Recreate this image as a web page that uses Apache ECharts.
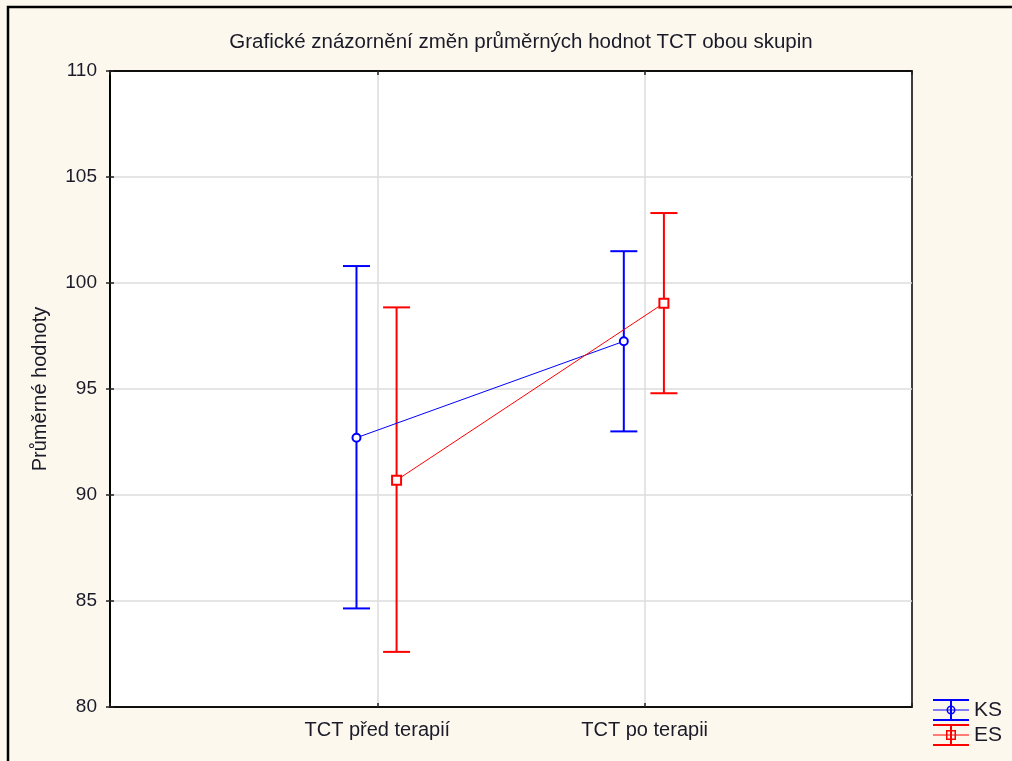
<!DOCTYPE html>
<html>
<head>
<meta charset="utf-8">
<script src="https://cdn.jsdelivr.net/npm/echarts@6/dist/echarts.min.js"></script>
<style>
  html, body { margin: 0; padding: 0; background: #fdf8ee; }
  #chart { width: 1012px; height: 761px; }
</style>
</head>
<body>
<div id="chart"></div>
<script>
// hodnoty
const categories = ['TCT před terapií', 'TCT po terapii'];
const ksMean = [92.7, 97.25];
const ksLow = [84.65, 93.0];
const ksHigh = [100.8, 101.5];
const esMean = [90.7, 99.05];
const esLow = [82.6, 94.8];
const esHigh = [98.85, 103.3];
const yMin = 80, yMax = 110, yStep = 5;

const ksShift = -0.078;
const esShift = 0.072;
const textColor = '#1a1a28';
const font = 'Liberation Sans, Arial, sans-serif';
const gridColor = '#dcdcdc';

const ksPoints = ksMean.map((v, i) => [i + 1 + ksShift, v]);
const esPoints = esMean.map((v, i) => [i + 1 + esShift, v]);
const ksBars = ksLow.map((v, i) => [i + 1 + ksShift, v, ksHigh[i]]);
const esBars = esLow.map((v, i) => [i + 1 + esShift, v, esHigh[i]]);

// ikony legendy (caps + stem + stredni cara + marker)
const base = 'M0 0 H36 V2 H0 Z M0 20 H36 V22 H0 Z M17 2 H19 V20 H17 Z M0 10.5 H36 V11.5 H0 Z ';
const ksIcon = 'path://' + base +
  'M13.5 11 A4.5 4.5 0 1 1 22.5 11 A4.5 4.5 0 1 1 13.5 11 Z M15 11 A3 3 0 1 0 21 11 A3 3 0 1 0 15 11 Z';
const esIcon = 'path://' + base +
  'M13 6 H23 V16 H13 Z M14.5 7.5 V14.5 H21.5 V7.5 Z';

function errorBar(color) {
  return function (params, api) {
    const x = api.value(0);
    const lo = api.coord([x, api.value(1)]);
    const hi = api.coord([x, api.value(2)]);
    const hw = 13.5;
    const st = { stroke: color, lineWidth: 2 };
    return {
      type: 'group',
      children: [
        { type: 'line', shape: { x1: lo[0], y1: lo[1], x2: hi[0], y2: hi[1] }, style: st },
        { type: 'line', shape: { x1: hi[0] - hw, y1: hi[1], x2: hi[0] + hw, y2: hi[1] }, style: st },
        { type: 'line', shape: { x1: lo[0] - hw, y1: lo[1], x2: lo[0] + hw, y2: lo[1] }, style: st }
      ]
    };
  };
}

const tickStyle = { show: true, inside: true, length: 4, lineStyle: { color: '#222', width: 1.5 } };
const lineAxis = { show: true, lineStyle: { color: '#000', width: 1.5 } };
const gridLines = {
  show: true, showMinLine: false, showMaxLine: false,
  lineStyle: { color: gridColor, width: 1.5 }
};

const chart = echarts.init(document.getElementById('chart'), null, { renderer: 'canvas' });

const option = {
  backgroundColor: '#fdf8ee',
  animation: false,
  title: {
    text: 'Grafické znázornění změn průměrných hodnot TCT obou skupin',
    left: 516,
    textAlign: 'center',
    top: 27,
    textStyle: { fontFamily: font, fontSize: 20.5, fontWeight: 'normal', color: textColor }
  },
  graphic: [{
    type: 'rect',
    shape: { x: 8, y: 7, width: 1100, height: 800 },
    style: { fill: 'none', stroke: '#000', lineWidth: 2.5 },
    silent: true
  }],
  legend: {
    data: [
      { name: 'KS', icon: ksIcon },
      { name: 'ES', icon: esIcon }
    ],
    orient: 'vertical',
    left: 933,
    top: 699,
    itemWidth: 36,
    itemHeight: 22,
    itemGap: 3,
    textStyle: { fontFamily: font, fontSize: 21, color: textColor },
    padding: 0
  },
  grid: {
    left: 110, top: 71, right: 100, bottom: 54,
    show: true, backgroundColor: '#fff', borderColor: '#000', borderWidth: 1.5
  },
  xAxis: [{
    type: 'value',
    min: 0, max: 3, interval: 1,
    axisLine: lineAxis,
    axisTick: tickStyle,
    splitLine: gridLines,
    axisLabel: {
      margin: 13,
      fontFamily: font, fontSize: 20, color: textColor,
      formatter: v => categories[v - 1] || ''
    }
  }, {
    type: 'value',
    position: 'top',
    min: 0, max: 3, interval: 1,
    axisLine: lineAxis,
    axisTick: tickStyle,
    splitLine: { show: false },
    axisLabel: { show: false }
  }],
  yAxis: [{
    type: 'value',
    min: yMin, max: yMax, interval: yStep,
    name: 'Průměrné hodnoty',
    nameLocation: 'middle',
    nameGap: 60,
    nameTextStyle: { fontFamily: font, fontSize: 20, color: textColor },
    axisLine: lineAxis,
    axisTick: tickStyle,
    splitLine: gridLines,
    axisLabel: { margin: 13, fontFamily: font, fontSize: 19, color: textColor }
  }, {
    type: 'value',
    position: 'right',
    min: yMin, max: yMax, interval: yStep,
    axisLine: lineAxis,
    axisTick: tickStyle,
    splitLine: { show: false },
    axisLabel: { show: false }
  }],
  series: [
    {
      name: 'KS interval', type: 'custom', renderItem: errorBar('#0000ff'),
      data: ksBars, z: 3, silent: true
    },
    {
      name: 'ES interval', type: 'custom', renderItem: errorBar('#ff0000'),
      data: esBars, z: 3, silent: true
    },
    {
      name: 'KS', type: 'line', data: ksPoints, color: '#0000ff',
      symbol: 'emptyCircle', symbolSize: 8,
      lineStyle: { width: 1, color: '#0000ff' },
      itemStyle: { color: '#0000ff', borderWidth: 1.2 }, z: 4
    },
    {
      name: 'ES', type: 'line', data: esPoints, color: '#ff0000',
      symbol: 'emptyRect', symbolSize: 9,
      lineStyle: { width: 1, color: '#ff0000' },
      itemStyle: { color: '#ff0000', borderWidth: 1.2 }, z: 4
    }
  ]
};

chart.setOption(option);
</script>
</body>
</html>
